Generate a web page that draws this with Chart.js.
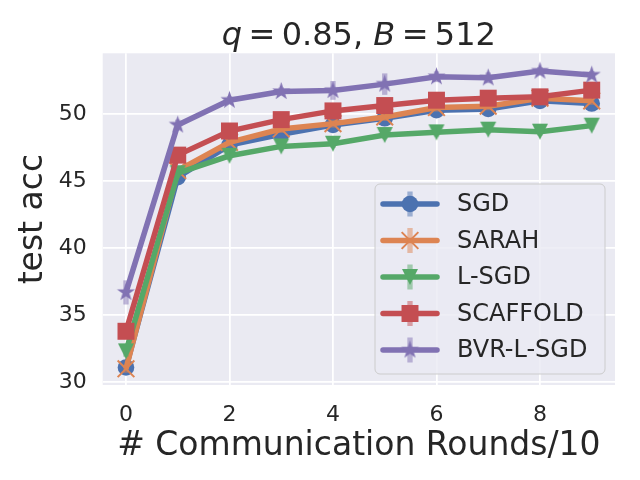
<!DOCTYPE html>
<html>
<head>
<meta charset="utf-8">
<title>q = 0.85, B = 512</title>
<script src="https://cdn.jsdelivr.net/npm/chart.js@4.4.0/dist/chart.umd.min.js"></script>
<style>
  html, body { margin: 0; padding: 0; background: #ffffff; }
  #wrap { width: 640px; height: 480px; }
</style>
</head>
<body>
<div id="wrap"><canvas id="mainChart" width="640" height="480"></canvas></div>
<script>
// --- Data ---
const rounds = [0, 1, 2, 3, 4, 5, 6, 7, 8, 9];

const sgdAcc      = [31.1, 45.3, 47.7, 48.5, 49.2, 49.7, 50.3, 50.4, 51.0, 50.8];
const sarahAcc    = [31.0, 45.8, 47.9, 48.9, 49.3, 49.8, 50.5, 50.6, 51.2, 51.0];
const lsgdAcc     = [32.3, 45.6, 46.9, 47.6, 47.8, 48.45, 48.65, 48.85, 48.7, 49.15];
const scaffoldAcc = [33.8, 46.95, 48.75, 49.6, 50.25, 50.65, 51.05, 51.2, 51.3, 51.8];
const bvrAcc      = [36.7, 49.2, 51.05, 51.7, 51.78, 52.25, 52.8, 52.72, 53.22, 52.93];

// half-widths of the (mostly hidden) error bars
const sgdErr      = [0.3, 0.3, 0.3, 0.3, 0.3, 0.3, 0.3, 0.3, 0.3, 0.3];
const sarahErr    = [0.3, 0.3, 0.3, 0.3, 0.3, 0.3, 0.3, 0.3, 0.3, 0.3];
const lsgdErr     = [0.4, 0.3, 0.3, 0.3, 0.3, 0.3, 0.3, 0.3, 0.3, 0.3];
const scaffoldErr = [0.5, 0.3, 0.3, 0.2, 0.3, 0.3, 0.3, 0.3, 0.2, 0.3];
const bvrErr      = [0.9, 0.4, 0.3, 0.3, 0.7, 0.8, 0.4, 0.4, 0.3, 0.3];

const seriesNames = ['SGD', 'SARAH', 'L-SGD', 'SCAFFOLD', 'BVR-L-SGD'];
const xTickValues = [0, 2, 4, 6, 8];
const yTickValues = [30, 35, 40, 45, 50];

// --- Style ---
const FONT = "'DejaVu Sans', 'Liberation Sans', sans-serif";
const TEXT = '#262626';
const COLORS = ['#4c72b0', '#dd8452', '#55a868', '#c44e52', '#8172b3'];
const LINE_W = 5.5;

function hexAlpha(hex, a) {
  const n = parseInt(hex.slice(1), 16);
  return `rgba(${n >> 16},${(n >> 8) & 255},${n & 255},${a})`;
}

// filled marker shapes that Chart.js has no built-in for
function makeMarker(shape, color, r) {
  const size = Math.ceil(r * 2 + 4);
  const c = document.createElement('canvas');
  c.width = size; c.height = size;
  const g = c.getContext('2d');
  g.translate(size / 2, size / 2);
  g.fillStyle = color;
  g.beginPath();
  if (shape === 'star') {
    for (let i = 0; i < 10; i++) {
      const rr = i % 2 ? r * 0.381966 : r;
      const a = -Math.PI / 2 + i * Math.PI / 5;
      g.lineTo(rr * Math.cos(a), rr * Math.sin(a));
    }
  } else {
    // triangle pointing down, centred on its bounding box
    g.moveTo(0, r); g.lineTo(-r, -r); g.lineTo(r, -r);
  }
  g.closePath();
  g.fill();
  return c;
}

const seriesValues = [sgdAcc, sarahAcc, lsgdAcc, scaffoldAcc, bvrAcc];
const seriesErrors = [sgdErr, sarahErr, lsgdErr, scaffoldErr, bvrErr];
const markerOpts = [
  { pointStyle: 'circle', pointRadius: 8.3, pointBorderWidth: 0 },
  { pointStyle: 'crossRot', pointRadius: 11.8, pointBorderWidth: 2 },
  { pointStyle: makeMarker('tri', COLORS[2], 8), pointRadius: 8, pointBorderWidth: 0 },
  { pointStyle: 'rect', pointRadius: 12, pointBorderWidth: 0 },
  { pointStyle: makeMarker('star', COLORS[4], 9.5), pointRadius: 9.5, pointBorderWidth: 0 }
];

const datasets = seriesNames.map((name, i) => Object.assign({
  label: name,
  data: rounds.map((r, k) => ({ x: r, y: seriesValues[i][k] })),
  errors: seriesErrors[i],
  borderColor: COLORS[i],
  backgroundColor: COLORS[i],
  pointBackgroundColor: COLORS[i],
  pointBorderColor: COLORS[i],
  borderWidth: LINE_W,
  tension: 0,
  clip: false,
  order: seriesNames.length - i // later series on top, like matplotlib
}, markerOpts[i]));

// --- Plugins ---
const plotBackground = {
  id: 'plotBackground',
  beforeDraw(chart) {
    const { ctx, chartArea: a } = chart;
    ctx.save();
    ctx.fillStyle = '#eaeaf2';
    ctx.fillRect(a.left, a.top, a.right - a.left, a.bottom - a.top);
    ctx.restore();
  }
};

const errorBars = {
  id: 'errorBars',
  beforeDatasetDraw(chart, args) {
    const ds = chart.data.datasets[args.index];
    if (!ds.errors) return;
    const { ctx, scales: { x, y } } = chart;
    ctx.save();
    ctx.strokeStyle = hexAlpha(ds.borderColor, 0.5);
    ctx.lineWidth = 5.3;
    ds.data.forEach((p, k) => {
      const px = x.getPixelForValue(p.x);
      ctx.beginPath();
      ctx.moveTo(px, y.getPixelForValue(p.y - ds.errors[k]));
      ctx.lineTo(px, y.getPixelForValue(p.y + ds.errors[k]));
      ctx.stroke();
    });
    ctx.restore();
  }
};

// title with italic variables, as in mathtext (thin spaces round "=")
const mathTitle = {
  id: 'mathTitle',
  afterDraw(chart) {
    const { ctx, chartArea: a } = chart;
    const size = 32;
    const parts = [
      ['q', 'italic'], ['\u2009=\u20090.85, ', 'normal'], ['B', 'italic'], ['\u2009=\u2009512', 'normal']
    ];
    ctx.save();
    ctx.fillStyle = TEXT;
    ctx.textBaseline = 'alphabetic';
    let total = 0;
    parts.forEach(p => { ctx.font = `${p[1]} ${size}px ${FONT}`; total += ctx.measureText(p[0]).width; });
    let x = (a.left + a.right) / 2 - total / 2;
    parts.forEach(p => {
      ctx.font = `${p[1]} ${size}px ${FONT}`;
      ctx.fillText(p[0], x, 45);
      x += ctx.measureText(p[0]).width;
    });
    ctx.restore();
  }
};

const boxLegend = {
  id: 'boxLegend',
  afterDraw(chart) {
    const { ctx, chartArea: a } = chart;
    const w = 230, h = 190;
    const bx = a.right - 10 - w, by = a.bottom - 11 - h;
    ctx.save();
    ctx.beginPath();
    ctx.roundRect(bx, by, w, h, 5);
    ctx.fillStyle = 'rgba(234,234,242,0.8)';
    ctx.fill();
    ctx.strokeStyle = '#cccccc';
    ctx.lineWidth = 1;
    ctx.stroke();

    const rowGap = 36.5;
    const y0 = by + 20;
    chart.data.datasets.forEach((ds, i) => {
      const y = y0 + i * rowGap;
      const x1 = bx + 8, x2 = bx + 62, xm = (x1 + x2) / 2;
      ctx.lineCap = 'round';
      ctx.strokeStyle = ds.borderColor;
      ctx.lineWidth = LINE_W;
      ctx.beginPath(); ctx.moveTo(x1, y); ctx.lineTo(x2, y); ctx.stroke();
      ctx.lineCap = 'butt';
      ctx.strokeStyle = hexAlpha(ds.borderColor, 0.5);
      ctx.lineWidth = 5.3;
      ctx.beginPath(); ctx.moveTo(xm, y - 12.5); ctx.lineTo(xm, y + 12.5); ctx.stroke();
      ctx.fillStyle = ds.borderColor;
      ctx.strokeStyle = ds.borderColor;
      ctx.lineWidth = ds.pointBorderWidth;
      Chart.helpers.drawPoint(ctx, {
        pointStyle: ds.pointStyle, radius: ds.pointRadius, rotation: 0, borderWidth: ds.pointBorderWidth
      }, xm, y);
      ctx.fillStyle = TEXT;
      ctx.font = `24px ${FONT}`;
      ctx.textBaseline = 'middle';
      ctx.textAlign = 'left';
      ctx.fillText(ds.label, bx + 82, y + 1);
    });
    ctx.restore();
  }
};

// --- Chart ---
const tickFont = { family: FONT, size: 22 };
const labelFont = { family: FONT, size: 33 };

new Chart(document.getElementById('mainChart'), {
  type: 'line',
  data: { datasets },
  plugins: [plotBackground, errorBars, mathTitle, boxLegend],
  options: {
    responsive: false,
    animation: false,
    events: [],
    layout: { padding: { top: 53.3, right: 25, left: 0, bottom: 0 } },
    plugins: { legend: { display: false }, tooltip: { enabled: false }, title: { display: false } },
    scales: {
      x: {
        type: 'linear',
        min: -0.45,
        max: 9.45,
        afterBuildTicks: s => { s.ticks = xTickValues.map(v => ({ value: v })); },
        afterFit: s => { s.height = 95; },
        grid: { color: '#ffffff', lineWidth: 1.75, drawTicks: false },
        border: { display: false },
        ticks: { color: TEXT, font: tickFont, padding: 17, maxRotation: 0 },
        title: { display: true, text: '# Communication Rounds/10', color: TEXT, font: labelFont, padding: { bottom: 13.5 } }
      },
      y: {
        type: 'linear',
        min: 29.79,
        max: 54.55,
        afterBuildTicks: s => { s.ticks = yTickValues.map(v => ({ value: v })); },
        afterFit: s => { s.width = 102.7; },
        grid: { color: '#ffffff', lineWidth: 1.75, drawTicks: false },
        border: { display: false },
        ticks: { color: TEXT, font: tickFont, padding: 16 },
        title: { display: true, text: 'test acc', color: TEXT, font: labelFont, padding: { top: 13.5 } }
      }
    }
  }
});
</script>
</body>
</html>
